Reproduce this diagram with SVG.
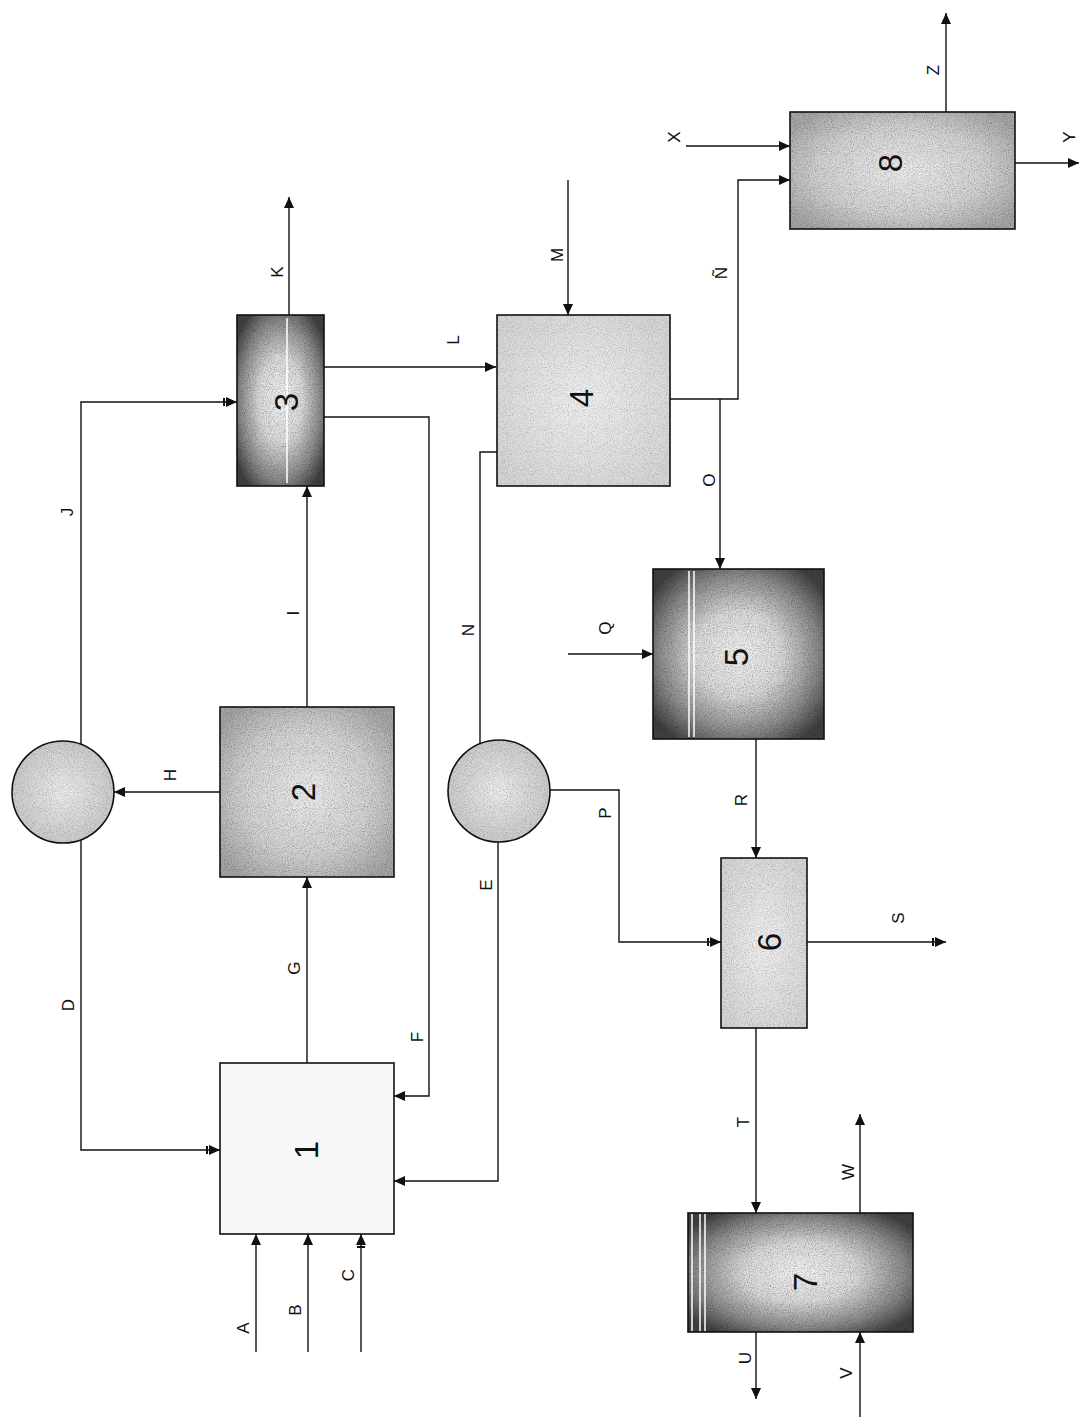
<svg xmlns="http://www.w3.org/2000/svg" width="1084" height="1418" viewBox="0 0 1084 1418">
<style>
.box{stroke:#111;stroke-width:1.6}
.edge{fill:none;stroke:#111;stroke-width:1.6}
.ln{fill:none;stroke:#111;stroke-width:1.4}
.lab{font-family:"Liberation Sans",Arial,sans-serif;font-size:17px;fill:#111;text-anchor:middle;dominant-baseline:central}
.num{font-family:"Liberation Sans",Arial,sans-serif;font-size:33px;fill:#111;text-anchor:middle;dominant-baseline:central}
.stripe{stroke:#fff;stroke-width:1.5}
.noise{fill:#000}
</style>
<defs>
<marker id="ah" markerWidth="11" markerHeight="10" refX="11" refY="5" orient="auto" markerUnits="userSpaceOnUse">
<path d="M0,0 L11,5 L0,10 z" fill="#111"/>
</marker>
<marker id="ahb" markerWidth="14" markerHeight="10" refX="14" refY="5" orient="auto" markerUnits="userSpaceOnUse">
<path d="M0,1 L2,1 L2,9 L0,9 z M3,0 L14,5 L3,10 z" fill="#111"/>
</marker>
<radialGradient id="gDark" cx="50%" cy="50%" r="62%">
<stop offset="0" stop-color="#f2f2f2"/>
<stop offset="0.4" stop-color="#dadada"/>
<stop offset="0.75" stop-color="#8a8a8a"/>
<stop offset="1" stop-color="#404040"/>
</radialGradient>
<radialGradient id="gMid" cx="50%" cy="50%" r="62%">
<stop offset="0" stop-color="#ececec"/>
<stop offset="0.6" stop-color="#d2d2d2"/>
<stop offset="1" stop-color="#a6a6a6"/>
</radialGradient>
<radialGradient id="gLight" cx="50%" cy="50%" r="62%">
<stop offset="0" stop-color="#f0f0f0"/>
<stop offset="1" stop-color="#d6d6d6"/>
</radialGradient>
<radialGradient id="gCirc" cx="50%" cy="50%" r="55%">
<stop offset="0" stop-color="#ececec"/>
<stop offset="1" stop-color="#c8c8c8"/>
</radialGradient>
<filter id="grain" x="0" y="0" width="100%" height="100%">
<feTurbulence type="fractalNoise" baseFrequency="0.95" numOctaves="2" seed="5" result="n"/>
<feColorMatrix in="n" type="matrix" values="0 0 0 0 0  0 0 0 0 0  0 0 0 0 0  -2.2 0 0 0 1.25" result="a"/>
<feComposite in="a" in2="SourceAlpha" operator="in"/>
</filter>
</defs>

<g id="connectors">
<path class="ln" d="M289,315 V197" marker-end="url(#ah)"/>
<path class="ln" d="M324,367 H496" marker-end="url(#ah)"/>
<path class="ln" d="M81,744 V402 H237" marker-end="url(#ahb)"/>
<path class="ln" d="M81,840 V1150 H220" marker-end="url(#ahb)"/>
<path class="ln" d="M324,417 H429 V1096 H394" marker-end="url(#ah)"/>
<path class="ln" d="M497,452 H480 V745"/>
<path class="ln" d="M498,842 V1181 H394" marker-end="url(#ah)"/>
<path class="ln" d="M220,792 H114" marker-end="url(#ah)"/>
<path class="ln" d="M307,707 V486" marker-end="url(#ah)"/>
<path class="ln" d="M307,1063 V877" marker-end="url(#ah)"/>
<path class="ln" d="M256,1352 V1234" marker-end="url(#ah)"/>
<path class="ln" d="M308,1352 V1234" marker-end="url(#ah)"/>
<path class="ln" d="M361,1352 V1234" marker-end="url(#ahb)"/>
<path class="ln" d="M568,180 V315" marker-end="url(#ah)"/>
<path class="ln" d="M670,399 H738 V180 H790" marker-end="url(#ah)"/>
<path class="ln" d="M720,399 V569" marker-end="url(#ah)"/>
<path class="ln" d="M686,146 H790" marker-end="url(#ah)"/>
<path class="ln" d="M946,112 V13" marker-end="url(#ah)"/>
<path class="ln" d="M1015,163 H1079" marker-end="url(#ah)"/>
<path class="ln" d="M568,654 H653" marker-end="url(#ah)"/>
<path class="ln" d="M756,739 V858" marker-end="url(#ah)"/>
<path class="ln" d="M550,790 H619 V942 H721" marker-end="url(#ahb)"/>
<path class="ln" d="M807,942 H946" marker-end="url(#ahb)"/>
<path class="ln" d="M756,1028 V1213" marker-end="url(#ah)"/>
<path class="ln" d="M860,1213 V1114" marker-end="url(#ah)"/>
<path class="ln" d="M756,1332 V1399" marker-end="url(#ah)"/>
<path class="ln" d="M860,1417 V1332" marker-end="url(#ah)"/>
</g>

<g id="labels">
<text class="lab" transform="rotate(-90 277 272)" x="277" y="272">K</text>
<text class="lab" transform="rotate(-90 453 340)" x="453" y="340">L</text>
<text class="lab" transform="rotate(-90 67 512)" x="67" y="512">J</text>
<text class="lab" transform="rotate(-90 293 613)" x="293" y="613">I</text>
<text class="lab" transform="rotate(-90 170 775)" x="170" y="775">H</text>
<text class="lab" transform="rotate(-90 468 630)" x="468" y="630">N</text>
<text class="lab" transform="rotate(-90 486 885)" x="486" y="885">E</text>
<text class="lab" transform="rotate(-90 68 1005)" x="68" y="1005">D</text>
<text class="lab" transform="rotate(-90 294 968)" x="294" y="968">G</text>
<text class="lab" transform="rotate(-90 417 1037)" x="417" y="1037">F</text>
<text class="lab" transform="rotate(-90 243 1328)" x="243" y="1328">A</text>
<text class="lab" transform="rotate(-90 295 1310)" x="295" y="1310">B</text>
<text class="lab" transform="rotate(-90 348 1275)" x="348" y="1275">C</text>
<text class="lab" transform="rotate(-90 557 255)" x="557" y="255">M</text>
<text class="lab" transform="rotate(-90 721 273)" x="721" y="273">Ñ</text>
<text class="lab" transform="rotate(-90 709 480)" x="709" y="480">O</text>
<text class="lab" transform="rotate(-90 674 137)" x="674" y="137">X</text>
<text class="lab" transform="rotate(-90 933 70)" x="933" y="70">Z</text>
<text class="lab" transform="rotate(-90 1069 137)" x="1069" y="137">Y</text>
<text class="lab" transform="rotate(-90 605 628)" x="605" y="628">Q</text>
<text class="lab" transform="rotate(-90 741 800)" x="741" y="800">R</text>
<text class="lab" transform="rotate(-90 605 813)" x="605" y="813">P</text>
<text class="lab" transform="rotate(-90 898 918)" x="898" y="918">S</text>
<text class="lab" transform="rotate(-90 743 1122)" x="743" y="1122">T</text>
<text class="lab" transform="rotate(-90 848 1172)" x="848" y="1172">W</text>
<text class="lab" transform="rotate(-90 745 1358)" x="745" y="1358">U</text>
<text class="lab" transform="rotate(-90 846 1373)" x="846" y="1373">V</text>
</g>

<g id="node1">
<rect class="box" x="220" y="1063" width="174" height="171" fill="#f7f7f7"/>
<text class="num" transform="rotate(-90 306 1150)" x="306" y="1150">1</text>
</g>
<g id="node2">
<rect x="220" y="707" width="174" height="170" fill="url(#gMid)"/>
<rect class="noise" x="220" y="707" width="174" height="170" filter="url(#grain)" opacity="0.28"/>
<rect class="edge" x="220" y="707" width="174" height="170"/>
<text class="num" transform="rotate(-90 303 792)" x="303" y="792">2</text>
</g>
<g id="node3">
<rect x="237" y="315" width="87" height="171" fill="url(#gDark)"/>
<rect class="noise" x="237" y="315" width="87" height="171" filter="url(#grain)" opacity="0.3"/>
<line class="stripe" x1="287" y1="318" x2="287" y2="483"/>
<rect class="edge" x="237" y="315" width="87" height="171"/>
<text class="num" transform="rotate(-90 286 402)" x="286" y="402">3</text>
</g>
<g id="node4">
<rect x="497" y="315" width="173" height="171" fill="url(#gLight)"/>
<rect class="noise" x="497" y="315" width="173" height="171" filter="url(#grain)" opacity="0.2"/>
<rect class="edge" x="497" y="315" width="173" height="171"/>
<text class="num" transform="rotate(-90 581 398)" x="581" y="398">4</text>
</g>
<g id="node5">
<rect x="653" y="569" width="171" height="170" fill="url(#gDark)"/>
<rect class="noise" x="653" y="569" width="171" height="170" filter="url(#grain)" opacity="0.3"/>
<line class="stripe" x1="689" y1="571" x2="689" y2="737"/>
<line class="stripe" x1="694" y1="571" x2="694" y2="737"/>
<rect class="edge" x="653" y="569" width="171" height="170"/>
<text class="num" transform="rotate(-90 736 657)" x="736" y="657">5</text>
</g>
<g id="node6">
<rect x="721" y="858" width="86" height="170" fill="url(#gLight)"/>
<rect class="noise" x="721" y="858" width="86" height="170" filter="url(#grain)" opacity="0.22"/>
<rect class="edge" x="721" y="858" width="86" height="170"/>
<text class="num" transform="rotate(-90 769 942)" x="769" y="942">6</text>
</g>
<g id="node7">
<rect x="688" y="1213" width="225" height="119" fill="url(#gDark)"/>
<rect class="noise" x="688" y="1213" width="225" height="119" filter="url(#grain)" opacity="0.3"/>
<line class="stripe" x1="692" y1="1214" x2="692" y2="1331"/>
<line class="stripe" x1="700" y1="1214" x2="700" y2="1331"/>
<line class="stripe" x1="705" y1="1214" x2="705" y2="1331"/>
<rect class="edge" x="688" y="1213" width="225" height="119"/>
<text class="num" transform="rotate(-90 805 1282)" x="805" y="1282">7</text>
</g>
<g id="node8">
<rect x="790" y="112" width="225" height="117" fill="url(#gMid)"/>
<rect class="noise" x="790" y="112" width="225" height="117" filter="url(#grain)" opacity="0.28"/>
<rect class="edge" x="790" y="112" width="225" height="117"/>
<text class="num" transform="rotate(-90 890 163)" x="890" y="163">8</text>
</g>
<g id="circle1">
<circle cx="63" cy="792" r="51" fill="url(#gCirc)"/>
<circle class="noise" cx="63" cy="792" r="51" filter="url(#grain)" opacity="0.22"/>
<circle class="edge" cx="63" cy="792" r="51"/>
</g>
<g id="circle2">
<circle cx="499" cy="791" r="51" fill="url(#gCirc)"/>
<circle class="noise" cx="499" cy="791" r="51" filter="url(#grain)" opacity="0.22"/>
<circle class="edge" cx="499" cy="791" r="51"/>
</g>
</svg>
